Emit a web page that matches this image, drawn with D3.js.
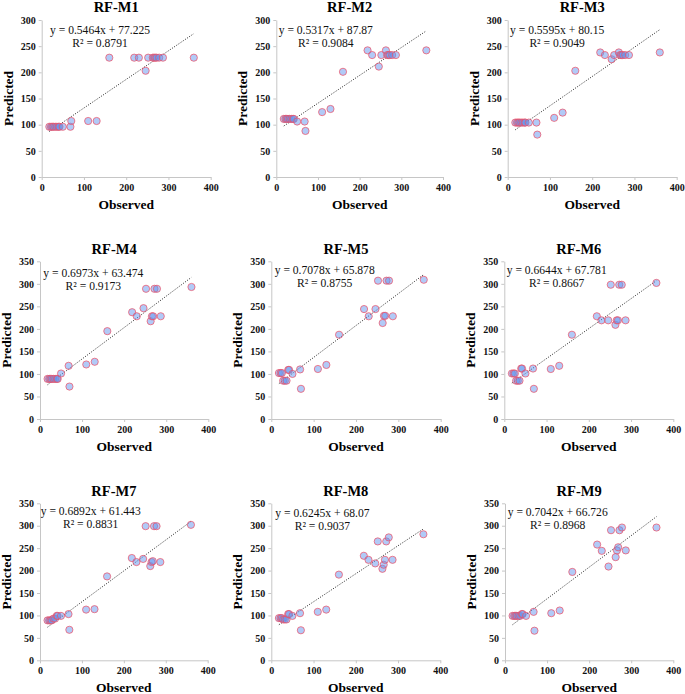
<!DOCTYPE html>
<html>
<head>
<meta charset="utf-8">
<script src="https://cdn.jsdelivr.net/npm/d3@7"></script>
<style>
  html, body { margin: 0; padding: 0; background: #fff; }
  svg { display: block; }
  text { font-family: "Liberation Serif", "Times New Roman", serif; }
</style>
</head>
<body>
<svg id="chart" width="685" height="694"></svg>
<script>
// ---------- DATA ----------
const modelNames = ["RF-M1", "RF-M2", "RF-M3", "RF-M4", "RF-M5", "RF-M6", "RF-M7", "RF-M8", "RF-M9"];
const observed = [18, 22, 25, 28, 32, 36, 40, 42, 50, 68, 70, 110, 130, 160, 219, 230, 246, 252, 263, 266, 269, 272, 278, 287, 360];
const predM1 = [96, 96, 96, 96, 96, 96, 96, 96, 96, 96, 107, 107, 107, 228, 228, 228, 203, 228, 228, 228, 228, 228, 228, 228, 228];
const predM2 = [111, 111, 111, 111, 111, 111, 111, 111, 106, 106, 88, 124, 130, 201, 242, 233, 211, 233, 242, 233, 233, 233, 233, 233, 242];
const predM3 = [104, 104, 104, 104, 104, 104, 104, 104, 104, 104, 81, 113, 123, 203, 238, 233, 225, 233, 238, 233, 233, 233, 233, 233, 238];
const predM4 = [89, 89, 89, 89, 89, 89, 89, 89, 101, 118, 72, 121, 127, 195, 237, 228, 246, 289, 217, 228, 228, 289, 289, 228, 293];
const predM5 = [102, 102, 102, 85, 85, 85, 109, 109, 100, 110, 67, 111, 120, 187, 244, 228, 244, 307, 213, 229, 229, 307, 307, 228, 309];
const predM6 = [101, 101, 101, 85, 85, 85, 112, 112, 101, 112, 67, 111, 118, 187, 228, 219, 219, 298, 209, 219, 219, 298, 298, 219, 302];
const predM7 = [89, 89, 89, 89, 93, 93, 99, 99, 99, 103, 68, 113, 114, 187, 228, 219, 226, 299, 210, 219, 221, 299, 299, 219, 302];
const predM8 = [94, 94, 94, 91, 91, 91, 103, 103, 99, 105, 67, 108, 113, 191, 233, 224, 216, 265, 204, 213, 224, 265, 274, 224, 281];
const predM9 = [99, 99, 99, 99, 99, 99, 103, 103, 99, 108, 66, 105, 111, 197, 258, 244, 209, 290, 230, 245, 252, 290, 296, 245, 296];
const slopes = [0.5464, 0.5317, 0.5595, 0.6973, 0.7078, 0.6644, 0.6892, 0.6245, 0.7042];
const intercepts = [77.225, 87.87, 80.15, 63.474, 65.878, 67.781, 61.443, 68.07, 66.726];
const eqLabels = ["y = 0.5464x + 77.225", "y = 0.5317x + 87.87", "y = 0.5595x + 80.15",
                  "y = 0.6973x + 63.474", "y = 0.7078x + 65.878", "y = 0.6644x + 67.781",
                  "y = 0.6892x + 61.443", "y = 0.6245x + 68.07", "y = 0.7042x + 66.726"];
const r2Labels = ["R² = 0.8791", "R² = 0.9084", "R² = 0.9049", "R² = 0.9173", "R² = 0.8755",
                  "R² = 0.8667", "R² = 0.8831", "R² = 0.9037", "R² = 0.8968"];
const yMaxes = [300, 300, 300, 350, 350, 350, 350, 350, 350];
const xTicks = [0, 100, 200, 300, 400];
const predictedSets = [predM1, predM2, predM3, predM4, predM5, predM6, predM7, predM8, predM9];

// ---------- LAYOUT (pixel geometry per panel) ----------
const layout = [
  { x0: 41.7, x1: 210.7, yTop: 20,    yBot: 177,   eqDx: 8.3, eqY: 34 },
  { x0: 276.3, x1: 443,  yTop: 20,    yBot: 177,   eqDx: 2.4, eqY: 34 },
  { x0: 507.7, x1: 676.7, yTop: 20,   yBot: 177,   eqDx: 2.3, eqY: 34 },
  { x0: 40,    x1: 208.3, yTop: 261.3, yBot: 419,  eqDx: 3.3, eqY: 276.7 },
  { x0: 271.3, x1: 440.7, yTop: 261.3, yBot: 419,  eqDx: 3.4, eqY: 273.5 },
  { x0: 504.3, x1: 673.3, yTop: 261.3, yBot: 419,  eqDx: 2.4, eqY: 273.5 },
  { x0: 40,    x1: 207.7, yTop: 503.3, yBot: 660.3, eqDx: 0.7, eqY: 515 },
  { x0: 271.3, x1: 440.3, yTop: 503.3, yBot: 660.3, eqDx: 4,  eqY: 516.5 },
  { x0: 505,   x1: 673.3, yTop: 503.3, yBot: 660.3, eqDx: 2.7, eqY: 516 }
];

const svg = d3.select("#chart");

modelNames.forEach((name, i) => {
  const L = layout[i];
  const g = svg.append("g");
  const x = d3.scaleLinear().domain([0, 400]).range([L.x0, L.x1]);
  const y = d3.scaleLinear().domain([0, yMaxes[i]]).range([L.yBot, L.yTop]);
  const yTicks = d3.range(0, yMaxes[i] + 1, 50);

  const xAxis = g.append("g")
    .attr("transform", `translate(0,${L.yBot})`)
    .call(d3.axisBottom(x).tickValues(xTicks).tickSize(3).tickSizeOuter(0).tickPadding(3));
  const yAxis = g.append("g")
    .attr("transform", `translate(${L.x0},0)`)
    .call(d3.axisLeft(y).tickValues(yTicks).tickSize(3).tickSizeOuter(0).tickPadding(3));

  [xAxis, yAxis].forEach(ax => {
    ax.select(".domain").attr("stroke", "#c6c6c6").attr("stroke-width", 1);
    ax.selectAll(".tick line").attr("stroke", "#c6c6c6");
    ax.selectAll(".tick text")
      .attr("fill", "#111")
      .style("font-family", '"Liberation Serif", "Times New Roman", serif')
      .style("font-weight", "bold")
      .style("font-size", "10px");
  });
  xAxis.selectAll(".tick text").attr("dy", "0.75em");

  const pts = observed.map((o, k) => ({ o, p: predictedSets[i][k] }));
  const xmin = d3.min(observed), xmax = d3.max(observed);
  g.append("line")
    .attr("x1", x(xmin)).attr("y1", y(slopes[i] * xmin + intercepts[i]))
    .attr("x2", x(xmax)).attr("y2", y(slopes[i] * xmax + intercepts[i]))
    .attr("stroke", "#222").attr("stroke-width", 1)
    .attr("stroke-dasharray", "1,1.6");

  g.append("g").selectAll("circle").data(pts).join("circle")
    .attr("cx", d => x(d.o))
    .attr("cy", d => y(d.p))
    .attr("r", 3.6)
    .attr("fill", "rgba(100,150,240,0.5)")
    .attr("stroke", "rgba(240,80,100,0.8)")
    .attr("stroke-width", 0.9);

  const eqX = L.x0 + L.eqDx;
  const eqText = g.append("text")
    .attr("x", eqX).attr("y", L.eqY)
    .style("font-size", "11.6px").attr("fill", "#111")
    .text(eqLabels[i]);
  const eqW = eqText.node().getComputedTextLength();
  g.append("text")
    .attr("x", eqX + eqW / 2).attr("y", L.eqY + 13)
    .attr("text-anchor", "middle")
    .style("font-size", "11.6px").attr("fill", "#111")
    .text(r2Labels[i]);

  const cx = (L.x0 + L.x1) / 2;
  g.append("text")
    .attr("x", cx - 10).attr("y", L.yTop - 7.6)
    .attr("text-anchor", "middle")
    .style("font-size", "14.5px").style("font-weight", "bold").attr("fill", "#000")
    .text(name);

  g.append("text")
    .attr("x", cx).attr("y", L.yBot + 32)
    .attr("text-anchor", "middle")
    .style("font-size", "13.5px").style("font-weight", "bold").attr("fill", "#000")
    .text("Observed");

  const cy = (L.yTop + L.yBot) / 2;
  g.append("text")
    .attr("transform", `translate(${L.x0 - 29},${cy}) rotate(-90)`)
    .attr("text-anchor", "middle")
    .style("font-size", "13.5px").style("font-weight", "bold").attr("fill", "#000")
    .text("Predicted");
});
</script>
</body>
</html>
